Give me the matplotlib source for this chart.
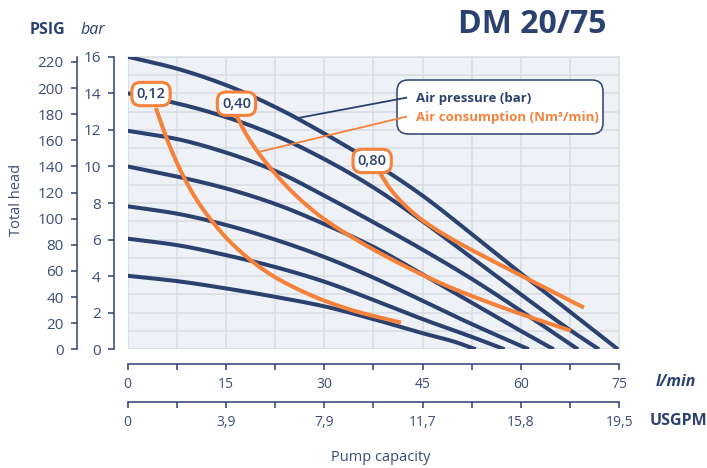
import numpy as np
import matplotlib
matplotlib.use('Agg')
import matplotlib.pyplot as plt
from matplotlib.patches import FancyBboxPatch
from matplotlib.ticker import MultipleLocator

plt.rcParams['font.family'] = ['Open Sans', 'DejaVu Sans']

# pump curves, flow in l/min, head in bar (one per air pressure)
flow_16 = [0, 7.5, 15, 22.5, 30, 37.5, 45, 52.5, 60, 67.5, 74.8]
head_16 = [16, 15.35, 14.45, 13.25, 11.8, 10.2, 8.4, 6.3, 4.15, 2.05, 0]
flow_14 = [0, 7.5, 15, 22.5, 30, 37.5, 45, 52.5, 60, 67.5, 71.9]
head_14 = [14, 13.45, 12.7, 11.7, 10.4, 8.85, 7.0, 5.0, 3.0, 1.05, 0]
flow_12 = [0, 7.5, 15, 22.5, 30, 37.5, 45, 52.5, 60, 68.7]
head_12 = [11.95, 11.5, 10.76, 9.76, 8.4, 6.95, 5.45, 3.85, 2.1, 0]
flow_10 = [0, 7.5, 15, 22.5, 30, 37.5, 45, 52.5, 60, 65]
head_10 = [10, 9.45, 8.8, 7.95, 6.85, 5.6, 4.1, 2.55, 1.0, 0]
flow_8 = [0, 7.5, 15, 22.5, 30, 37.5, 45, 52.5, 61.2]
head_8 = [7.82, 7.42, 6.8, 6.0, 5.05, 3.92, 2.65, 1.38, 0]
flow_6 = [0, 7.5, 15, 22.5, 30, 37.5, 45, 52.5, 57.5]
head_6 = [6.05, 5.7, 5.15, 4.5, 3.7, 2.7, 1.65, 0.68, 0]
flow_4 = [0, 7.5, 15, 22.5, 30, 37.5, 45, 49.8, 53.1]
head_4 = [4.02, 3.73, 3.33, 2.87, 2.35, 1.65, 0.88, 0.42, 0]

# air consumption curves
air_labels = ['0,12', '0,40', '0,80']
flow_012 = [4.3, 6.2, 8.5, 11.0, 13.0, 15.1, 18.4, 21.9, 24.7, 30, 34.9, 41.7]
air_012 = [13.2, 11.3, 9.46, 7.91, 6.95, 6.07, 4.98, 4.07, 3.51, 2.66, 2.07, 1.46]
flow_040 = [16.6, 17.85, 19.9, 22.4, 24.7, 26.7, 30, 34.8, 39.9, 45, 49.8, 54.9, 60, 67.6]
air_040 = [12.77, 11.9, 10.77, 9.65, 8.75, 8.07, 7.11, 6.01, 4.99, 4.07, 3.3, 2.59, 1.93, 1.02]
flow_080 = [38.4, 39.9, 42, 45, 49.8, 54.9, 60, 65.1, 69.6]
air_080 = [9.7, 8.85, 7.98, 7.05, 5.96, 4.98, 4.04, 3.1, 2.28]
label_flow = [3.55, 16.6, 37.3]
label_head = [13.96, 13.43, 10.3]

# leader lines to the legend box
lead_blue_x = [25.7, 42.5]
lead_blue_y = [12.63, 13.76]
lead_orange_x = [20.1, 42.5]
lead_orange_y = [10.8, 12.72]

bar_ticks = [0, 2, 4, 6, 8, 10, 12, 14, 16]
psig_ticks = [0, 20, 40, 60, 80, 100, 120, 140, 160, 180, 200, 220]
lmin_ticks = [0, 15, 30, 45, 60, 75]
usgpm_labels = ['0', '3,9', '7,9', '11,7', '15,8', '19,5']

blue = '#2b4170'
orange = '#f5813a'
txt = '#3c4d7a'


def smooth(x, y, n=300):
    # monotone cubic (pchip style) just for drawing
    x = np.asarray(x, float)
    y = np.asarray(y, float)
    h = np.diff(x)
    d = np.diff(y) / h
    m = np.zeros_like(y)
    for k in range(1, len(x) - 1):
        if d[k-1] * d[k] > 0:
            w1 = 2*h[k] + h[k-1]
            w2 = h[k] + 2*h[k-1]
            m[k] = (w1 + w2) / (w1/d[k-1] + w2/d[k])
    m[0] = d[0]
    m[-1] = d[-1]
    xs = np.linspace(x[0], x[-1], n)
    i = np.clip(np.searchsorted(x, xs) - 1, 0, len(x) - 2)
    t = (xs - x[i]) / h[i]
    ys = ((2*t**3 - 3*t**2 + 1)*y[i] + (t**3 - 2*t**2 + t)*h[i]*m[i]
          + (-2*t**3 + 3*t**2)*y[i+1] + (t**3 - t**2)*h[i]*m[i+1])
    return xs, ys


fig = plt.figure(figsize=(7.07, 4.68), dpi=100)
ax = fig.add_axes([0.1806, 0.2536, 0.6953, 0.6252])
ax.set_facecolor('#eef2f7')
ax.set_xlim(0, 75)
ax.set_ylim(0, 16)

ax.xaxis.set_major_locator(MultipleLocator(15))
ax.xaxis.set_minor_locator(MultipleLocator(7.5))
ax.yaxis.set_major_locator(MultipleLocator(2))
ax.yaxis.set_minor_locator(MultipleLocator(1))
ax.grid(which='both', color='#d9dde3', lw=1.1)
ax.set_axisbelow(True)

for s in ['top', 'right']:
    ax.spines[s].set_color('#d9dde3')
    ax.spines[s].set_linewidth(1.1)
ax.spines['left'].set_position(('outward', 9.9))
ax.spines['bottom'].set_position(('outward', 10.6))
for s in ['left', 'bottom']:
    ax.spines[s].set_color(blue)
    ax.spines[s].set_linewidth(1.1)
ax.tick_params(axis='y', which='major', direction='out', length=4.5, width=1.1,
               color=blue, labelcolor=txt, labelsize=11, pad=5)
ax.tick_params(axis='y', which='minor', length=0)
ax.tick_params(axis='x', which='both', direction='out', length=4.5, width=1.1,
               color=blue, labelcolor=txt, labelsize=10, pad=5)
ax.set_yticks(bar_ticks)
ax.set_yticklabels([str(v) for v in bar_ticks])
ax.set_xticks(lmin_ticks)
ax.set_xticklabels([str(v) for v in lmin_ticks])

for fx, hy in [(flow_16, head_16), (flow_14, head_14), (flow_12, head_12),
               (flow_10, head_10), (flow_8, head_8), (flow_6, head_6),
               (flow_4, head_4)]:
    xs, ys = smooth(fx, hy)
    ax.plot(xs, ys, color=blue, lw=2.9, solid_capstyle='butt', zorder=3)

for fx, ay in [(flow_012, air_012), (flow_040, air_040), (flow_080, air_080)]:
    xs, ys = smooth(fx, ay)
    ax.plot(xs, ys, color=orange, lw=2.9, solid_capstyle='butt', zorder=4)

for lab, lx, ly in zip(air_labels, label_flow, label_head):
    ax.text(lx, ly, lab, ha='center', va='center', fontsize=10.5,
            fontweight='semibold', color=blue, zorder=6,
            bbox=dict(boxstyle='round,pad=0.32,rounding_size=0.6',
                      fc='white', ec=orange, lw=2.2))

# legend box
box = FancyBboxPatch((3.97, 3.34), 2.06, 0.54,
                     boxstyle='round,pad=0,rounding_size=0.11',
                     transform=fig.dpi_scale_trans, fc='white', ec=blue,
                     lw=1.1, zorder=7)
ax.add_patch(box)
ax.plot(lead_blue_x, lead_blue_y, color=blue, lw=1.3, zorder=8)
ax.plot(lead_orange_x, lead_orange_y, color=orange, lw=1.3, zorder=8)
fig.text(0.589, 0.79, 'Air pressure (bar)', color=blue, fontsize=9.5,
         fontweight='bold', va='center')
fig.text(0.589, 0.75, 'Air consumption (Nm³/min)', color=orange,
         fontsize=9.5, fontweight='bold', va='center')

# PSIG axis
ax2 = ax.twinx()
ax2.set_ylim(0, 224)
ax2.yaxis.set_ticks_position('left')
for s in ['top', 'right', 'bottom']:
    ax2.spines[s].set_visible(False)
ax2.spines['left'].set_visible(True)
ax2.spines['left'].set_position(('outward', 36.7))
ax2.spines['left'].set_color(blue)
ax2.spines['left'].set_linewidth(1.1)
ax2.set_yticks(psig_ticks)
ax2.set_yticklabels([str(v) for v in psig_ticks])
ax2.tick_params(axis='y', direction='out', length=4.5, width=1.1, color=blue,
                labelcolor=txt, labelsize=11, pad=5)

# USGPM axis
ax3 = ax.twiny()
ax3.set_xlim(0, 75)
ax3.xaxis.set_ticks_position('bottom')
for s in ['top', 'right', 'left']:
    ax3.spines[s].set_visible(False)
ax3.spines['bottom'].set_visible(True)
ax3.spines['bottom'].set_position(('outward', 37.7))
ax3.spines['bottom'].set_color(blue)
ax3.spines['bottom'].set_linewidth(1.1)
ax3.set_xticks(lmin_ticks)
ax3.set_xticklabels(usgpm_labels)
ax3.xaxis.set_minor_locator(MultipleLocator(7.5))
ax3.tick_params(axis='x', which='both', direction='out', length=4.5, width=1.1,
                color=blue, labelcolor=txt, labelsize=10, pad=5)

fig.text(0.7525, 0.9487, 'DM 20/75', ha='center', va='center', fontsize=23,
         fontweight='bold', color=blue)
fig.text(0.0665, 0.936, 'PSIG', ha='center', va='center', fontsize=11.5,
         fontweight='bold', color=blue)
fig.text(0.1315, 0.936, 'bar', ha='center', va='center', fontsize=11.5,
         style='italic', color=blue)
fig.text(0.024, 0.573, 'Total head', ha='center', va='center', fontsize=10.5,
         rotation=90, color=txt)
fig.text(0.956, 0.183, 'l/min', ha='center', va='center', fontsize=11.5,
         fontweight='bold', style='italic', color=blue)
fig.text(0.96, 0.101, 'USGPM', ha='center', va='center', fontsize=11.5,
         fontweight='bold', color=blue)
fig.text(0.539, 0.0235, 'Pump capacity', ha='center', va='center',
         fontsize=10.5, color=txt)

fig.savefig('out.png', dpi=100)
